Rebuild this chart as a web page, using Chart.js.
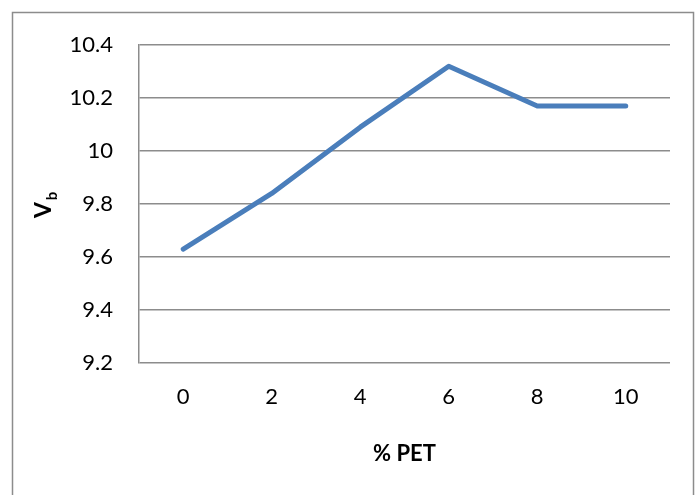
<!DOCTYPE html>
<html>
<head>
<meta charset="utf-8">
<script src="https://cdn.jsdelivr.net/npm/chart.js@4/dist/chart.umd.min.js"></script>
<style>
  html, body { margin: 0; padding: 0; background: #fff; }
  #wrap { width: 700px; height: 495px; position: relative; }
</style>
</head>
<body>
<div id="wrap"><canvas id="c" width="700" height="495"></canvas></div>
<script>
const categories = ['0', '2', '4', '6', '8', '10'];
const vbValues = [9.63, 9.84, 10.09, 10.32, 10.17, 10.17];
const yTicks = [9.2, 9.4, 9.6, 9.8, 10, 10.2, 10.4];
const xTitle = '% PET';
const yTitleMain = 'V';
const yTitleSub = 'b';

const FONT = 'Lato, "Open Sans", sans-serif';

const framePlugin = {
  id: 'frame',
  beforeDraw(chart) {
    const ctx = chart.ctx;
    ctx.save();
    ctx.fillStyle = '#fff';
    ctx.fillRect(0, 0, chart.width, chart.height);
    ctx.strokeStyle = '#8c8c8c';
    ctx.lineWidth = 1.5;
    ctx.strokeRect(12.5, 12.5, 681, 520);
    ctx.restore();
  },
  afterDraw(chart) {
    const ctx = chart.ctx;
    ctx.save();
    ctx.translate(44, 210);
    ctx.rotate(-Math.PI / 2);
    ctx.fillStyle = '#000';
    ctx.textBaseline = 'middle';
    ctx.textAlign = 'center';
    ctx.font = 'bold 23px ' + FONT;
    ctx.fillText(yTitleMain, 0, 0);
    ctx.font = 'bold 15px ' + FONT;
    ctx.fillText(yTitleSub, 14, 8);
    ctx.restore();
  }
};

new Chart(document.getElementById('c'), {
  type: 'line',
  data: {
    labels: categories,
    datasets: [{
      data: vbValues,
      borderColor: '#4a7ebb',
      borderWidth: 5,
      borderCapStyle: 'round',
      borderJoinStyle: 'round',
      pointRadius: 0,
      pointHoverRadius: 0,
      tension: 0,
      fill: false
    }]
  },
  options: {
    responsive: false,
    animation: false,
    events: [],
    layout: { padding: { top: 45, right: 30, bottom: 0, left: 0 } },
    plugins: {
      legend: { display: false },
      tooltip: { enabled: false },
      title: { display: false }
    },
    scales: {
      x: {
        type: 'category',
        offset: true,
        grid: { display: false, drawTicks: false },
        border: { display: false },
        ticks: {
          color: '#000',
          font: { family: FONT, size: 22 },
          padding: 21,
          maxRotation: 0
        },
        title: {
          display: true,
          text: xTitle,
          color: '#000',
          font: { family: FONT, size: 22, weight: 'bold' },
          padding: { top: 0, bottom: 28 }
        },
        afterFit(scale) { scale.height = 132; }
      },
      y: {
        min: 9.2,
        max: 10.4,
        afterBuildTicks(scale) {
          scale.ticks = yTicks.map(v => ({ value: v }));
        },
        grid: { color: '#8c8c8c', lineWidth: 1.5, drawTicks: false },
        border: { display: true, color: '#8c8c8c', width: 1.5 },
        ticks: {
          color: '#000',
          font: { family: FONT, size: 22 },
          padding: 26,
          callback: v => String(+Number(v).toFixed(1))
        },
        afterFit(scale) { scale.width = 139; }
      }
    }
  },
  plugins: [framePlugin]
});
</script>
</body>
</html>
